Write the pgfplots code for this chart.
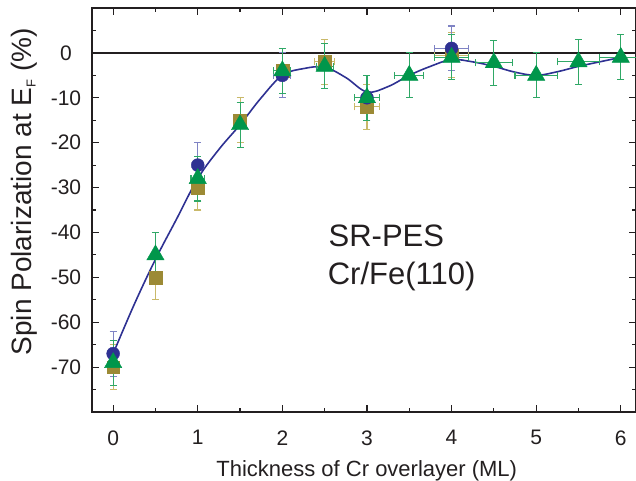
\documentclass[border=0pt]{standalone}
\usepackage{fontspec}
\setmainfont{Liberation Sans}
\usepackage{pgfplots}
\pgfplotsset{compat=1.18}

\definecolor{cblue}{HTML}{2E3192}
\definecolor{colive}{HTML}{9C8A35}
\definecolor{cgreen}{HTML}{00964B}
\definecolor{eblue}{HTML}{7F83C4}
\definecolor{eolive}{HTML}{C9B96A}
\definecolor{egreen}{HTML}{2FA866}
\definecolor{axgray}{HTML}{231F20}

\pgfplotsset{
  errs/.style={error bars/.cd, y dir=both, y explicit, x dir=both, x explicit,
    error bar style={color=#1, line width=1.1bp},
    error mark options={rotate=90, color=#1, mark size=3.5bp, line width=1.1bp}},
}

\begin{document}
\begin{tikzpicture}
\begin{axis}[
  scale only axis, width=544bp, height=404bp,
  xmin=-0.25, xmax=6.18, ymin=-80, ymax=10,
  xtick={0,...,6}, minor xtick={0.5,1.5,...,5.5},
  ytick={-70,-60,...,0}, minor ytick={-75,-65,...,5},
  tick align=inside, major tick length=7bp, minor tick length=4bp,
  axis line style={line width=1.5bp, color=axgray},
  tick style={line width=1.2bp, color=axgray},
  /pgf/number format/assume math mode=true,
  ticklabel style={font=\fontsize{21bp}{24bp}\selectfont, color=axgray},
  xticklabel style={yshift=-15bp},
  yticklabel style={anchor=center, xshift=-26bp},
  xlabel={Thickness of Cr overlayer (ML)},
  xlabel style={font=\fontsize{22bp}{26bp}\selectfont, color=axgray,
    at={(axis description cs:0.505,0)}, anchor=base, yshift=-65bp},
  ylabel={Spin Polarization at E\raisebox{-0.25ex}{\fontsize{13bp}{15bp}\selectfont F} (\%)},
  ylabel style={font=\fontsize{28bp}{32bp}\selectfont, color=axgray,
    at={(axis description cs:-0.1103,0.545)}, anchor=base},
]
\coordinate (sw) at (rel axis cs:0,0);
\coordinate (ne) at (rel axis cs:1,1);

% zero line
\addplot[line width=1.5bp, color=axgray] coordinates {(-0.25,0) (6.18,0)};

% olive squares
\addplot[only marks, mark=square*, mark size=6.4bp, color=colive, errs=eolive]
  coordinates {
  (0,-70) +- (0,5)
  (0.5,-50) +- (0,5)
  (1,-30) +- (0,5)
  (1.5,-15) +- (0,5)
  (2,-4) +- (0,5)
  (2.5,-2) +- (0.12,5)
  (3,-12) +- (0.15,5)
  (4,-0.5) +- (0.2,5)
  };

% blue circles
\addplot[only marks, mark=*, mark size=6.5bp, color=cblue, errs=eblue]
  coordinates {
  (0,-67) +- (0,5)
  (1,-25) +- (0,5)
  (2,-5) +- (0.1,5)
  (3,-10) +- (0.15,5)
  (4,1) +- (0.2,5)
  };

% fitted curve
\addplot[smooth, tension=0.6, line width=1.6bp, color=cblue] coordinates {
  (0,-67) (0.25,-56) (0.5,-46) (0.75,-37) (1,-28) (1.25,-21.5) (1.5,-16)
  (1.75,-10) (2,-5) (2.25,-3.5) (2.5,-3.2) (2.75,-5.5) (3,-8.7) (3.25,-7.5)
  (3.5,-5) (3.75,-3) (4,-1.5) (4.25,-2) (4.5,-3) (4.75,-4.3) (5,-5)
  (5.25,-4.2) (5.5,-3) (5.75,-2) (6,-1)
  };

% green triangles
\addplot[only marks, mark=triangle*, mark size=10bp, color=cgreen, errs=egreen]
  coordinates {
  (0,-69) +- (0,5)
  (0.5,-45) +- (0,5)
  (1,-28) +- (0.08,5)
  (1.5,-16) +- (0.08,5)
  (2,-4) +- (0.1,5)
  (2.5,-3) +- (0.1,5)
  (3,-10) +- (0.15,5)
  (3.5,-5) +- (0.17,5)
  (4,-1) +- (0.2,5)
  (4.5,-2.2) +- (0.22,5)
  (5,-5) +- (0.25,5)
  (5.5,-2) +- (0.25,5)
  (6,-1) +- (0.25,5)
  };

\node[anchor=base west, inner sep=0, font=\fontsize{31bp}{36bp}\selectfont, color=axgray]
  at (axis cs:2.545,-43.2) {SR-PES};
\node[anchor=base west, inner sep=0, font=\fontsize{31bp}{36bp}\selectfont, color=axgray]
  at (axis cs:2.535,-51.7) {Cr/Fe(110)};
\end{axis}
\pgfresetboundingbox
\path[use as bounding box] ([shift={(-92bp,-69bp)}]sw) rectangle ([shift={(0bp,8bp)}]ne);
\end{tikzpicture}
\end{document}
